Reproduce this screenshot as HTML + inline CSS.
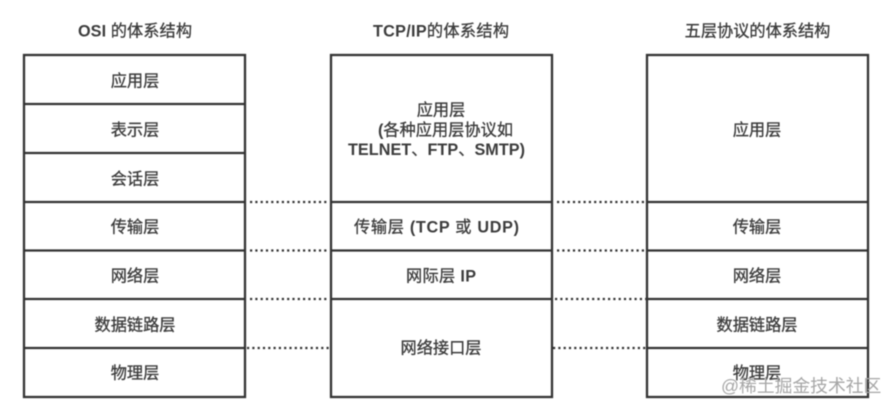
<!DOCTYPE html>
<html>
<head>
<meta charset="utf-8">
<style>
html,body{margin:0;padding:0;background:#fff;width:896px;height:409px;overflow:hidden}
svg{display:block;filter:blur(.5px)}
text{font-family:"Liberation Sans","Noto Sans CJK SC",sans-serif;font-size:16.200px;font-weight:400;fill:#3c3c3c;text-anchor:middle;stroke:#3c3c3c;stroke-width:.3px}
tspan.l{font-weight:700;stroke-width:0}
.s{text-anchor:start}
.b{fill:none;stroke:#333;stroke-width:2.300}
.d{stroke:#333;stroke-width:2.200;stroke-dasharray:2.200 3.100;fill:none}
text.w{font-size:17.800px;font-weight:400;fill:#a6a6a6;stroke:none;text-anchor:start}
</style>
</head>
<body>
<svg width="896" height="409" viewBox="0 0 896 409" xmlns="http://www.w3.org/2000/svg">
<text class="s" x="78" y="36.500" textLength="114"><tspan class="l">OSI </tspan>的体系结构</text>
<text class="s" x="373" y="36.500" textLength="136"><tspan class="l">TCP/IP</tspan>的体系结构</text>
<text x="757.500" y="36.500">五层协议的体系结构</text>

<rect class="b" x="24" y="55" width="221" height="342"/>
<path class="b" d="M24 104H245M24 153H245M24 202H245M24 250.500H245M24 299H245M24 348H245"/>
<rect class="b" x="331" y="55" width="221" height="342"/>
<path class="b" d="M331 202H552M331 250.500H552M331 299H552"/>
<rect class="b" x="647" y="55" width="221" height="342"/>
<path class="b" d="M647 202H868M647 250.500H868M647 299H868M647 348H868"/>

<path class="d" d="M250 202H329M250 250.500H329M250 299H329M247 348H329M557 202H646M557 250.500H646M555 299H646M553 348H646"/>

<text x="135" y="86.500">应用层</text>
<text x="135" y="135.500">表示层</text>
<text x="135" y="184.500">会话层</text>
<text x="135" y="232.500">传输层</text>
<text x="135" y="281.500">网络层</text>
<text x="135" y="330.500">数据链路层</text>
<text x="135" y="378.500">物理层</text>

<text x="441" y="115.500">应用层</text>
<text class="s" x="378" y="135.500" textLength="135"><tspan class="l">(</tspan>各种应用层协议如</text>
<text class="s" x="348" y="155" textLength="177"><tspan class="l">TELNET</tspan>、<tspan class="l">FTP</tspan>、<tspan class="l">SMTP)</tspan></text>
<text class="s" x="354" y="232.500" textLength="165">传输层<tspan class="l"> (TCP </tspan>或<tspan class="l"> UDP)</tspan></text>
<text class="s" x="406" y="281.500" textLength="70">网际层<tspan class="l"> IP</tspan></text>
<text x="441" y="353.500">网络接口层</text>

<text x="757" y="135.500">应用层</text>
<text x="757" y="232.500">传输层</text>
<text x="757" y="281.500">网络层</text>
<text x="757" y="330.500">数据链路层</text>
<text x="757" y="378.500">物理层</text>

<text class="w" x="721" y="392">@稀土掘金技术社区</text>
</svg>
</body>
</html>
